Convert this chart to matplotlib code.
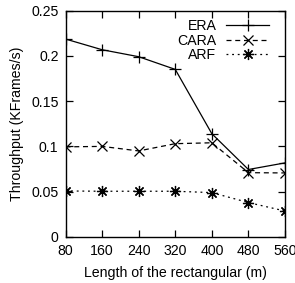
import matplotlib
matplotlib.use("Agg")
import matplotlib.pyplot as plt

plt.rcParams['font.family'] = ['Liberation Sans', 'DejaVu Sans']

lengths = [80, 160, 240, 320, 400, 480, 560]
era = [0.2185, 0.2067, 0.199, 0.185, 0.114, 0.0745, 0.0818]
cara = [0.0995, 0.100, 0.095, 0.103, 0.104, 0.071, 0.0707]
arf = [0.0508, 0.0505, 0.0505, 0.0505, 0.049, 0.038, 0.0287]
yticks = [0, 0.05, 0.1, 0.15, 0.2, 0.25]
ytick_labels = ['0', '0.05', '0.1', '0.15', '0.2', '0.25']

fs = 10.2
fig = plt.figure(figsize=(2.95, 2.83), dpi=100)
ax = fig.add_axes([65.5/295, 1-237/283, (285-65.5)/295, (237-10.5)/283])

lw = 0.9
ax.plot(lengths, era, color='black', lw=lw, marker='+', ms=9, mew=0.9, label='ERA')
ax.plot(lengths, cara, color='black', lw=lw, ls=(0, (4, 3)), marker='x', ms=7, mew=0.9, label='CARA')
ax.plot(lengths, arf, color='black', lw=lw, ls=(0, (1.5, 3)), marker=(8, 2, 0), ms=8, mew=0.9, label='ARF')

ax.set_xlim(80, 560)
ax.set_ylim(0, 0.25)
ax.set_xticks(lengths)
ax.set_yticks(yticks)
ax.set_yticklabels(ytick_labels)
ax.tick_params(direction='in', top=True, right=True, length=5, width=0.9, labelsize=fs, pad=5)
for s in ax.spines.values():
    s.set_linewidth(1.0)

ax.set_xlabel('Length of the rectangular (m)', fontsize=fs, labelpad=6)
ax.set_ylabel('Throughput (KFrames/s)', fontsize=fs, labelpad=5)

leg = ax.legend(loc='upper right', frameon=False, markerfirst=False, fontsize=fs,
                handlelength=3.0, handletextpad=0.7, labelspacing=0.05,
                borderaxespad=0.2, bbox_to_anchor=(0.965, 1.0))
for t in leg.get_texts():
    t.set_ha('right')

fig.savefig('out.png', dpi=100)
